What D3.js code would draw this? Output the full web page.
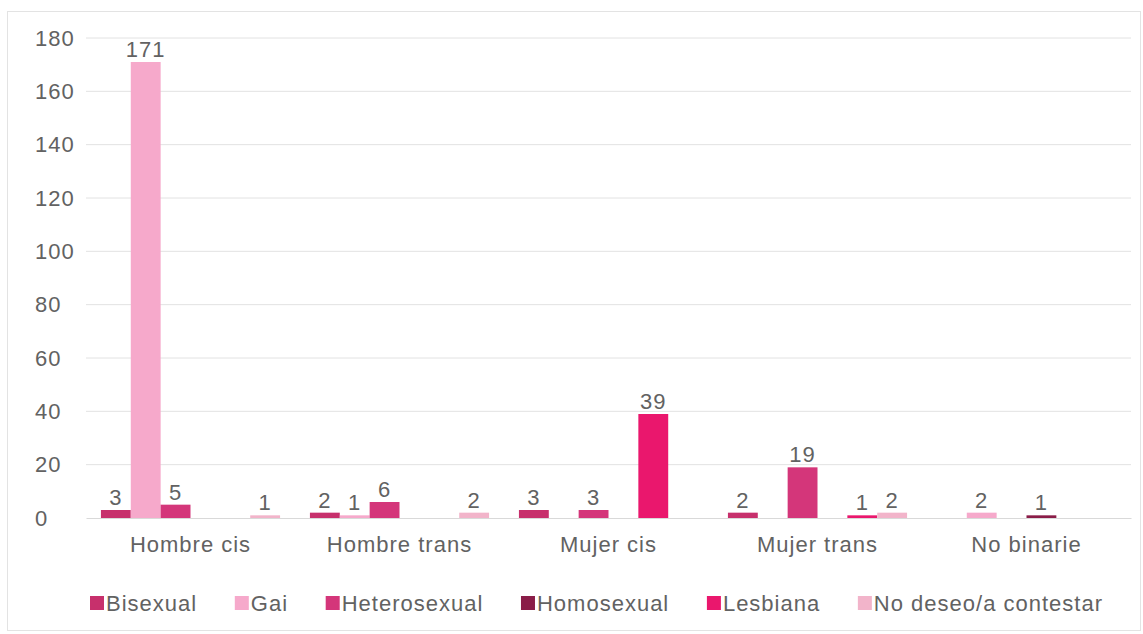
<!DOCTYPE html>
<html>
<head>
<meta charset="utf-8">
<script src="https://cdn.jsdelivr.net/npm/d3@7"></script>
<style>
  body { margin: 0; background: #fff; }
  text { font-family: "Liberation Sans", Arial, sans-serif; fill: #626262; font-size: 22px; letter-spacing: 1px; }
</style>
</head>
<body>
<div class="chart-container"></div>
<script>
var categories = ["Hombre cis", "Hombre trans", "Mujer cis", "Mujer trans", "No binarie"];
var series = ["Bisexual", "Gai", "Heterosexual", "Homosexual", "Lesbiana", "No deseo/a contestar"];
var seriesColors = ["#c7306c", "#f6a9cb", "#d4367a", "#8a1d48", "#ea176d", "#f2b4ca"];

// one array per series, in category order
var bisexual     = [3, 2, 3, 2, 0];
var gai          = [171, 1, 0, 0, 2];
var heterosexual = [5, 6, 3, 19, 0];
var homosexual   = [0, 0, 0, 0, 1];
var lesbiana     = [0, 0, 39, 1, 0];
var noDeseo      = [1, 2, 0, 2, 0];
var values = [bisexual, gai, heterosexual, homosexual, lesbiana, noDeseo];

var yTicks = [0, 20, 40, 60, 80, 100, 120, 140, 160, 180];

var W = 1143, H = 634;
var margin = {top: 38, right: 12, bottom: 116, left: 86},
    width = W - margin.left - margin.right,
    height = H - margin.top - margin.bottom;

var svg = d3.select(".chart-container").append("svg")
    .attr("width", W)
    .attr("height", H);

// chart frame
svg.append("rect")
    .attr("x", 7.5).attr("y", 11.5)
    .attr("width", 1133).attr("height", 619)
    .attr("fill", "#fff")
    .attr("stroke", "#e3e3e3");

var g = svg.append("g")
    .attr("transform", "translate(" + margin.left + "," + margin.top + ")");

var x0 = d3.scaleBand().domain(categories).range([0, width]);
var x1 = d3.scaleBand().domain(series).range([0, x0.bandwidth()]).paddingOuter(0.5);
var y = d3.scaleLinear().domain([0, 180]).range([height, 0]);

// gridlines
g.append("g")
    .selectAll("line")
    .data(yTicks.filter(function(d) { return d > 0; }))
  .enter().append("line")
    .attr("x1", 0).attr("x2", width)
    .attr("y1", function(d) { return y(d); })
    .attr("y2", function(d) { return y(d); })
    .attr("stroke", "#e2e2e2");

// y axis labels (left aligned, like the source)
var yAxis = g.append("g")
    .call(d3.axisLeft(y).tickValues(yTicks).tickSize(0));
yAxis.select(".domain").remove();
yAxis.selectAll("text")
    .attr("x", 35 - margin.left)
    .attr("text-anchor", "start")
    .attr("fill", "#626262")
    .style("font-size", "22px");

// bars
var rows = [];
series.forEach(function(s, si) {
  categories.forEach(function(c, ci) {
    rows.push({series: s, cat: c, value: values[si][ci], color: seriesColors[si]});
  });
});

g.selectAll(".bar")
    .data(rows.filter(function(d) { return d.value > 0; }))
  .enter().append("rect")
    .attr("class", "bar")
    .attr("x", function(d) { return x0(d.cat) + x1(d.series); })
    .attr("width", x1.bandwidth())
    .attr("y", function(d) { return y(d.value); })
    .attr("height", function(d) { return height - y(d.value); })
    .attr("fill", function(d) { return d.color; });

g.selectAll(".val")
    .data(rows.filter(function(d) { return d.value > 0; }))
  .enter().append("text")
    .attr("class", "val")
    .attr("x", function(d) { return x0(d.cat) + x1(d.series) + x1.bandwidth() / 2; })
    .attr("y", function(d) { return y(d.value) - 5; })
    .attr("text-anchor", "middle")
    .text(function(d) { return d.value; });

// x axis
var xAxis = g.append("g")
    .attr("transform", "translate(0," + height + ")")
    .call(d3.axisBottom(x0).tickSize(0).tickPadding(18));
xAxis.select(".domain").attr("stroke", "#d9d9d9");
xAxis.selectAll("text")
    .attr("fill", "#626262")
    .style("font-size", "22px");

// legend
var legend = svg.append("g").attr("transform", "translate(0,603)");
var items = legend.selectAll(".legend")
    .data(series)
  .enter().append("g")
    .attr("class", "legend");
items.append("rect")
    .attr("y", -7)
    .attr("width", 14).attr("height", 14)
    .attr("fill", function(d, i) { return seriesColors[i]; });
items.append("text")
    .attr("x", 16)
    .attr("dy", "0.36em")
    .text(function(d) { return d; });

var widths = [];
items.each(function() { widths.push(16 + d3.select(this).select("text").node().getComputedTextLength()); });
var start = 90, end = 1103;
var gap = (end - start - d3.sum(widths)) / (series.length - 1);
var pos = start;
items.attr("transform", function(d, i) {
  var p = pos;
  pos += widths[i] + gap;
  return "translate(" + p + ",0)";
});
</script>
</body>
</html>
